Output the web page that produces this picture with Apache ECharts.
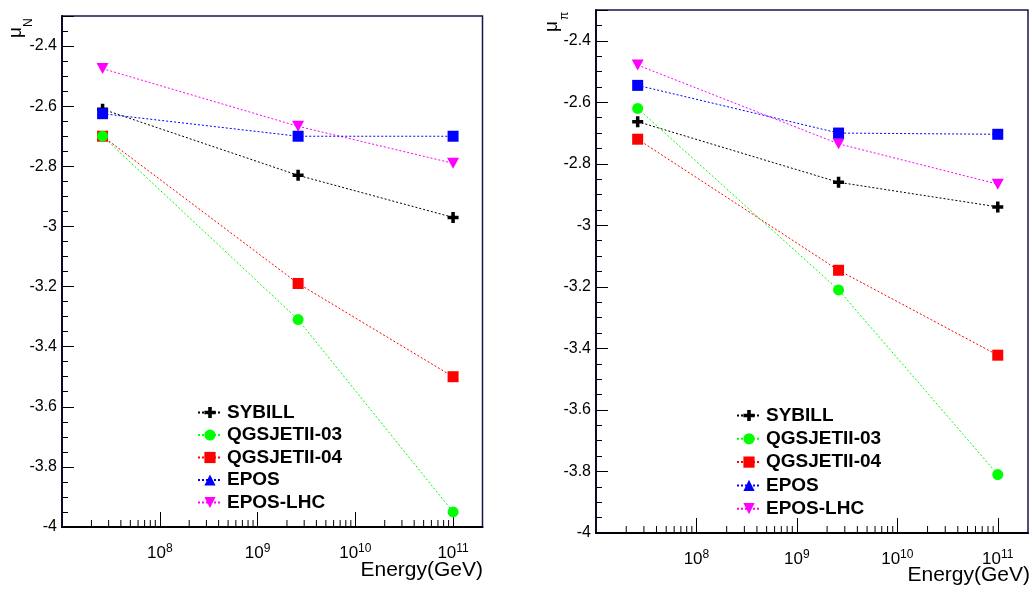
<!DOCTYPE html>
<html>
<head>
<meta charset="utf-8">
<script src="https://cdn.jsdelivr.net/npm/echarts@6/dist/echarts.min.js"></script>
<style>
  html, body { margin: 0; padding: 0; background: #ffffff; }
  #chart { width: 1032px; height: 592px; }
</style>
</head>
<body>
<div id="chart"></div>
<script>
// Primary energies (GeV) at which each hadronic model was evaluated
const energies = [2.6e7, 2.6e9, 1e11];

// Model names in legend order
const modelNames = ['SYBILL', 'QGSJETII-03', 'QGSJETII-04', 'EPOS', 'EPOS-LHC'];

// mu_N : nucleon parameter
const muN_SYBILL      = [-2.61, -2.83, -2.97];
const muN_QGSJETII03  = [-2.70, -3.31, -3.95];
const muN_QGSJETII04  = [-2.70, -3.19, -3.50];
const muN_EPOS        = [-2.625, -2.70, -2.70];
const muN_EPOSLHC     = [-2.475, -2.667, -2.79];

// mu_pi : pion parameter
const muPi_SYBILL     = [-2.663, -2.86, -2.94];
const muPi_QGSJETII03 = [-2.62, -3.21, -3.81];
const muPi_QGSJETII04 = [-2.72, -3.146, -3.422];
const muPi_EPOS       = [-2.545, -2.70, -2.704];
const muPi_EPOSLHC    = [-2.479, -2.735, -2.866];

// Axis ranges and ticks
const yMin = -4, yMax = -2.3, yStep = 0.2;
const xMin = 1e7, xMax = 2e11;
const decades = [1e7, 1e8, 1e9, 1e10, 1e11];
const minorMultipliers = [2, 3, 4, 5, 6, 7, 8, 9];
const xTitle = 'Energy(GeV)';

const panelN = {
  SYBILL: muN_SYBILL, 'QGSJETII-03': muN_QGSJETII03, 'QGSJETII-04': muN_QGSJETII04,
  EPOS: muN_EPOS, 'EPOS-LHC': muN_EPOSLHC
};
const panelPi = {
  SYBILL: muPi_SYBILL, 'QGSJETII-03': muPi_QGSJETII03, 'QGSJETII-04': muPi_QGSJETII04,
  EPOS: muPi_EPOS, 'EPOS-LHC': muPi_EPOSLHC
};

const plusPath = 'path://M3.4,0H6.6V3.4H10V6.6H6.6V10H3.4V6.6H0V3.4H3.4Z';
const downTriPath = 'path://M0,0H10L5,9Z';

const modelStyle = {
  'SYBILL':      { color: '#000000', symbol: plusPath, size: 11 },
  'QGSJETII-03': { color: '#00ff00', symbol: 'circle', size: 11 },
  'QGSJETII-04': { color: '#ff0000', symbol: 'rect', size: 11 },
  'EPOS':        { color: '#0000ff', symbol: 'triangle', pointSymbol: 'rect', size: 11 },
  'EPOS-LHC':    { color: '#ff00ff', symbol: downTriPath, size: [12, 11] }
};
// stacking order of the markers
const drawOrder = ['SYBILL', 'QGSJETII-04', 'QGSJETII-03', 'EPOS-LHC', 'EPOS'];

const FONT = '"Liberation Sans", Arial, Helvetica, sans-serif';

const minorTickValues = [];
decades.forEach(d => minorMultipliers.forEach(m => {
  if (d * m < xMax) minorTickValues.push([d * m, yMin]);
}));

function modelSeries(panel, idx) {
  return drawOrder.map(name => {
    const st = modelStyle[name];
    return {
      name: name,
      type: 'line',
      xAxisIndex: idx,
      yAxisIndex: idx,
      symbol: st.symbol,
      symbolSize: st.size,
      showAllSymbol: true,
      lineStyle: { color: st.color, width: 1, type: [2, 2] },
      itemStyle: { color: st.color, borderWidth: 0 },
      emphasis: { disabled: true },
      animation: false,
      data: energies.map((e, i) => {
        const item = { value: [e, panel[name][i]] };
        if (st.pointSymbol) item.symbol = st.pointSymbol;
        return item;
      })
    };
  });
}

function minorTickSeries(idx) {
  return {
    type: 'custom',
    xAxisIndex: idx,
    yAxisIndex: idx,
    silent: true,
    animation: false,
    data: minorTickValues,
    renderItem: function (params, api) {
      const p = api.coord([api.value(0), api.value(1)]);
      return {
        type: 'line',
        shape: { x1: p[0], y1: p[1], x2: p[0], y2: p[1] - 7 },
        style: { stroke: '#000000', lineWidth: 1 }
      };
    }
  };
}

function xAxisCfg(idx) {
  return {
    type: 'log',
    gridIndex: idx,
    min: xMin,
    max: xMax,
    logBase: 10,
    axisLine: { show: true, lineStyle: { color: '#000000', width: 2 } },
    axisTick: { show: true, inside: true, length: 15, lineStyle: { color: '#000000', width: 1 } },
    axisLabel: {
      show: true,
      margin: 16,
      showMinLabel: false,
      showMaxLabel: false,
      formatter: function (v) {
        const e = Math.round(Math.log10(v));
        if (Math.abs(Math.log10(v) - e) > 1e-6) return '';
        return '{b|10}{s|' + e + '}';
      },
      rich: {
        b: { fontFamily: FONT, fontSize: 17, lineHeight: 19, color: '#000', verticalAlign: 'bottom' },
        s: { fontFamily: FONT, fontSize: 12, lineHeight: 12, color: '#000', verticalAlign: 'top' }
      }
    },
    splitLine: { show: false },
    minorTick: { show: false },
    minorSplitLine: { show: false }
  };
}

function yAxisCfg(idx) {
  return {
    type: 'value',
    gridIndex: idx,
    min: yMin,
    max: yMax,
    interval: yStep,
    axisLine: { show: true, onZero: false, lineStyle: { color: '#0a0a2a', width: 2 } },
    axisTick: { show: true, inside: true, length: 12, lineStyle: { color: '#000000', width: 1 } },
    minorTick: { show: true, splitNumber: 4, length: 6, lineStyle: { color: '#000000', width: 1 } },
    axisLabel: {
      show: true, margin: 5, showMaxLabel: false,
      fontFamily: FONT, fontSize: 16, color: '#000000',
      formatter: v => String(Math.round(v * 10) / 10)
    },
    splitLine: { show: false },
    minorSplitLine: { show: false }
  };
}

function legendCfg(left, top, gap) {
  return {
    data: modelNames,
    orient: 'vertical',
    left: left,
    top: top,
    padding: 0,
    itemWidth: 24,
    itemHeight: 14,
    itemGap: gap,
    selectedMode: false,
    textStyle: { fontFamily: FONT, fontSize: 19, fontWeight: 'bold', color: '#000000', lineHeight: 18 },
    backgroundColor: 'transparent'
  };
}

// rotated y-axis titles: mu with a subscript
function muTitle(x, y, sub, subDx) {
  return {
    type: 'group',
    x: x, y: y,
    rotation: Math.PI / 2,
    children: [
      { type: 'text', x: 0, y: 0,
        style: { text: 'μ', fontFamily: FONT, fontSize: 19, fill: '#000', align: 'left', verticalAlign: 'bottom' } },
      { type: 'text', x: subDx, y: 10,
        style: { text: sub, fontFamily: FONT, fontSize: 12, fill: '#000', align: 'left', verticalAlign: 'bottom' } }
    ]
  };
}

// x-axis titles, right-aligned under the axis end
function energyTitle(x, y) {
  return {
    type: 'text', x: x, y: y,
    style: { text: xTitle, fontFamily: FONT, fontSize: 21, fill: '#000', align: 'right', verticalAlign: 'top' }
  };
}

const chart = echarts.init(document.getElementById('chart'), null, { renderer: 'canvas' });

chart.setOption({
  backgroundColor: '#ffffff',
  animation: false,
  grid: [
    { left: 62, top: 16, right: 549.5, bottom: 65, show: true, borderColor: '#141450', borderWidth: 1.5,
      backgroundColor: 'transparent', containLabel: false, outerBoundsMode: 'none' },
    { left: 596, top: 10, right: 4, bottom: 59, show: true, borderColor: '#141450', borderWidth: 1.5,
      backgroundColor: 'transparent', containLabel: false, outerBoundsMode: 'none' }
  ],
  xAxis: [xAxisCfg(0), xAxisCfg(1)],
  yAxis: [yAxisCfg(0), yAxisCfg(1)],
  legend: [legendCfg(197, 403, 3.5), legendCfg(736, 406, 4.3)],
  graphic: [
    muTitle(25, 38, 'N', 11),
    muTitle(561, 32, 'π', 12),
    energyTitle(483, 560),
    energyTitle(1030, 565)
  ],
  series: [
    minorTickSeries(0),
    minorTickSeries(1),
    ...modelSeries(panelN, 0),
    ...modelSeries(panelPi, 1)
  ]
});
</script>
</body>
</html>
